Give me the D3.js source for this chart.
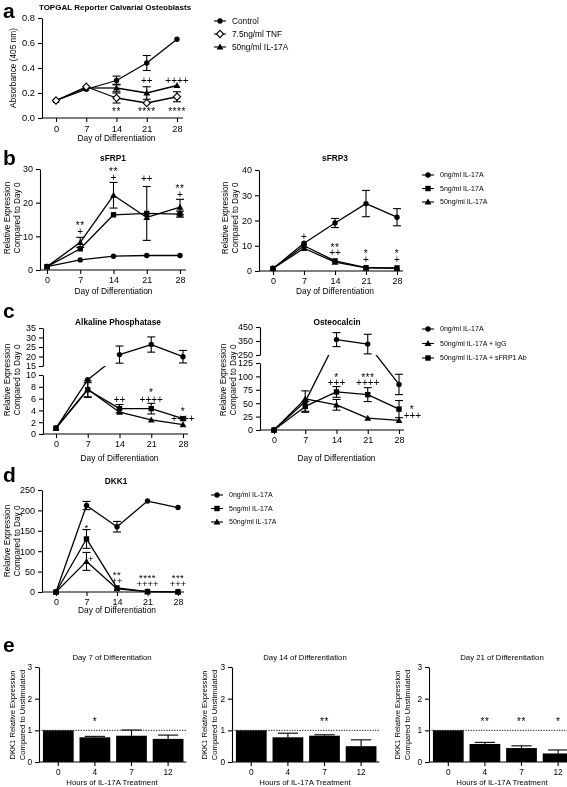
<!DOCTYPE html>
<html><head><meta charset="utf-8">
<script src="https://cdn.jsdelivr.net/npm/d3@7/dist/d3.min.js"></script>
<style>html,body{margin:0;background:#fff}svg{display:block;transform:translateZ(0)}svg text{font-family:"Liberation Sans",Arial,Helvetica,sans-serif;fill:#000}</style>
</head><body><svg id="c" width="567" height="787" viewBox="0 0 567 787"></svg>
<script>
// ---------------- DATA ----------------
const days=[0,7,14,21,28];
// panel a
const aNames=["Control","7.5ng/ml TNF","50ng/ml IL-17A"];
const aControl=[0.14,0.23,0.30,0.44,0.63], aControlErr=[0.01,0.02,0.035,0.06,0.005];
const aTNF=[0.14,0.25,0.16,0.12,0.17], aTNFErr=[0.01,0.01,0.04,0.01,0.04];
const aIL=[0.14,0.24,0.24,0.20,0.26], aILErr=[0.01,0.02,0.03,0.05,0.01];
const aTicks=[0,0.2,0.4,0.6,0.8];
const aAnn=[{d:14,v:0.07,t:"**"},{d:21,v:0.07,t:"****"},{d:28,v:0.07,t:"****"},{d:21,v:0.30,t:"++"},{d:28,v:0.30,t:"++++"}];
// panel b
const bNames=["0ng/ml IL-17A","5ng/ml IL-17A","50ng/ml IL-17A"];
const s1_0=[1,3,4.1,4.3,4.3], s1_0e=[0.1,0.2,0.5,0.3,0.2];
const s1_5=[1,6.3,16.4,16.8,16.6], s1_5e=[0.1,0.6,0.8,8,0.9];
const s1_50=[1,8.2,22.2,15.6,18.7], s1_50e=[0.1,1.5,3.8,0.8,2.3];
const s1Ticks=[0,10,20,30];
const s1Ann=[{d:7,v:13.9,t:"**"},{d:7,v:11.4,t:"+"},{d:14,v:29.9,t:"**"},{d:14,v:27.4,t:"+"},{d:21,v:27.3,t:"++"},{d:28,v:24.9,t:"**"},{d:28,v:22.4,t:"+"}];
const s3_0=[1,11,19,26.7,21.3], s3_0e=[0.1,0.5,1.8,5.2,3.4];
const s3_5=[1,10,4,1.3,1.2], s3_5e=[0.1,0.5,0.5,0.2,0.2];
const s3_50=[1,9,3.5,1.2,1.0], s3_50e=[0.1,0.5,0.5,0.2,0.2];
const s3Ticks=[0,10,20,30,40];
const s3Ann=[{d:7,v:13.9,t:"+"},{d:14,v:10.2,t:"**"},{d:14,v:7.2,t:"++"},{d:21,v:7.8,t:"*"},{d:21,v:4.6,t:"+"},{d:28,v:7.8,t:"*"},{d:28,v:4.6,t:"+"}];
// panel c
const cNames=["0ng/ml IL-17A","50ng/ml IL-17A + IgG","50ng/ml IL-17A + sFRP1 Ab"];
const alp_0=[1,9.2,21,26.3,19.9], alp_0e=[0.1,0.5,4.5,4,3.3];
const alp_igg=[1,7.6,3.7,2.4,1.6], alp_igge=[0.1,1.4,0.4,0.4,0.4];
const alp_ab=[1,7.5,4.3,4.3,2.6], alp_abe=[0.1,1.2,0.7,0.9,0.5];
const alpLoTicks=[0,2,4,6,8,10], alpUpTicks=[15,20,25,30,35];
const alpAnn=[{d:14,v:5.9,t:"++"},{d:21,v:7.4,t:"*"},{d:21,v:5.9,t:"++++"},{d:28,v:4.2,t:"*"},{d:28,v:2.7,t:"++++"}];
const oc_0=[0,53,360,328,85], oc_0e=[1,20,50,70,19];
const oc_igg=[0,58,47,22,18], oc_igge=[1,4,10,2,3];
const oc_ab=[0,44,71,66,39], oc_abe=[1,9,10,13,16];
const ocLoTicks=[0,25,50,75,100,125], ocUpTicks=[250,350,450];
const ocAnn=[{d:14,v:103,t:"*"},{d:14,v:88,t:"+++"},{d:21,v:103,t:"***"},{d:21,v:88,t:"++++"},{d:30.9,v:42,t:"*"},{d:31,v:27,t:"+++"}];
// panel d
const dk_0=[0,212,160,223,207], dk_0e=[1,10,13,2,3];
const dk_5=[0,130,10,1,0.5], dk_5e=[0,23,2,0.5,0.2];
const dk_50=[0,75,8,1,0.5], dk_50e=[0,22,2,0.5,0.2];
const dkTicks=[0,50,100,150,200,250];
const dkAnn=[{d:7,v:164,t:"*"},{d:8,v:81,t:"+"},{d:14,v:48,t:"**"},{d:14,v:29,t:"++"},{d:21,v:40,t:"****"},{d:21,v:21,t:"++++"},{d:28,v:40,t:"***"},{d:28,v:21,t:"+++"}];
// panel e
const hours=["0","4","7","12"];
const eTitles=["Day 7 of Differentiation","Day 14 of Differentiation","Day 21 of Differentiation"];
const e7=[1,0.78,0.83,0.73], e7err=[0,0.03,0.18,0.12];
const e14=[1,0.78,0.83,0.5], e14err=[0,0.13,0.03,0.2];
const e21=[1,0.57,0.44,0.27], e21err=[0,0.05,0.07,0.11];
const eTicks=[0,1,2,3];
const e7Ann=[{h:"4",v:1.36,t:"*"}], e14Ann=[{h:"7",v:1.36,t:"**"}], e21Ann=[{h:"4",v:1.36,t:"**"},{h:"7",v:1.36,t:"**"},{h:"12",v:1.36,t:"*"}];

// ---------------- DRAWING ----------------
const svg=d3.select("#c");

function marker(g,type,x,y){
  if(type==="circle") g.append("circle").attr("cx",x).attr("cy",y).attr("r",2.7).attr("fill","#000");
  else if(type==="square") g.append("rect").attr("x",x-2.7).attr("y",y-2.7).attr("width",5.4).attr("height",5.4).attr("fill","#000");
  else if(type==="triangle") g.append("path").attr("d",`M${x},${y-3.4}L${x+3.4},${y+2.6}L${x-3.4},${y+2.6}Z`).attr("fill","#000");
  else if(type==="diamond") g.append("path").attr("d",`M${x},${y-3.6}L${x+3.6},${y}L${x},${y+3.6}L${x-3.6},${y}Z`).attr("fill","#fff").attr("stroke","#000").attr("stroke-width",1.1);
}
function annText(g,x,y,t,fs){
  const star=t.indexOf("*")>=0;
  g.append("text").attr("x",x).attr("y",y+(star?0.6:0.36)*fs).attr("text-anchor","middle")
   .attr("font-size",fs).attr("fill","#000").attr("letter-spacing",star?0.5:0).text(t);
}
function letter(x,y,t){svg.append("text").attr("x",x).attr("y",y).attr("font-size",21).attr("font-weight","bold").text(t);}
function legend(x,y0,dy,names,types,fs){
  const g=svg.append("g");
  names.forEach((n,i)=>{
    const y=y0+i*dy;
    g.append("line").attr("x1",x-6).attr("x2",x+6).attr("y1",y).attr("y2",y).attr("stroke","#000").attr("stroke-width",1.1);
    marker(g,types[i],x,y);
    g.append("text").attr("x",x+12).attr("y",y+fs*0.35).attr("font-size",fs).text(n);
  });
}
let clipId=0;
function lineChart(L,D){
  const g=svg.append("g");
  const x=d3.scaleLinear().domain([0,28]).range([L.x0,L.x28]);
  const lo=d3.scaleLinear().domain(D.loDom).range(L.loRng);
  const up=D.upDom?d3.scaleLinear().domain(D.upDom).range(L.upRng):null;
  const isUp=v=>up&&v>=D.upDom[0];
  const y=v=>isUp(v)?up(v):lo(Math.min(v,D.loDom[1]));
  const fmt=D.fmt||(d=>d);
  const ya=g.append("g").attr("transform",`translate(${L.ax},0)`)
    .call(d3.axisLeft(lo).tickValues(D.loTicks).tickSize(4).tickSizeOuter(0).tickFormat(fmt));
  const axes=[ya];
  if(up){axes.push(g.append("g").attr("transform",`translate(${L.ax},0)`)
    .call(d3.axisLeft(up).tickValues(D.upTicks).tickSize(4).tickSizeOuter(0).tickFormat(fmt)));}
  const xa=g.append("g").attr("transform",`translate(0,${L.loRng[0]})`)
    .call(d3.axisBottom(x).tickValues(days).tickSize(4).tickSizeOuter(0));
  xa.select(".domain").attr("d",`M${L.ax},0H${L.xr}`);
  axes.push(xa);
  axes.forEach(a=>{a.attr("font-family",null).attr("font-size",L.tfs);
    a.selectAll("path,line").attr("stroke","#000").attr("stroke-width",1.1);});
  let cid=null;
  if(up){cid="clip"+(clipId++);
    svg.append("clipPath").attr("id",cid).append("rect").attr("x",0).attr("y",L.upRng[0]).attr("width",567).attr("height",787);}
  D.series.forEach(s=>{
    for(let i=0;i<s.vals.length-1;i++){
      const a=s.vals[i],b=s.vals[i+1];
      const ln=g.append("line").attr("x1",x(days[i])).attr("y1",y(a)).attr("x2",x(days[i+1])).attr("y2",y(b))
        .attr("stroke","#000").attr("stroke-width",1.3);
      if(up&&isUp(a)!==isUp(b)) ln.attr("clip-path",`url(#${cid})`);
    }
  });
  D.series.forEach(s=>{
    s.vals.forEach((v,i)=>{
      const e=s.errs[i]; const yt=y(v+e), yb=y(Math.max(0,v-e)); const xx=x(days[i]);
      if(yb-yt<6) return;
      g.append("line").attr("x1",xx).attr("x2",xx).attr("y1",yt).attr("y2",yb).attr("stroke","#000").attr("stroke-width",1.1);
      [yt,yb].forEach(yy=>g.append("line").attr("x1",xx-4).attr("x2",xx+4).attr("y1",yy).attr("y2",yy).attr("stroke","#000").attr("stroke-width",1.1));
    });
  });
  D.series.forEach(s=>{s.vals.forEach((v,i)=>marker(g,s.type,x(days[i]),y(v)));});
  D.ann.forEach(a=>annText(g,x(a.d),y(a.v),a.t,L.afs));
  g.append("text").attr("x",L.tx).attr("y",L.ty).attr("text-anchor","middle").attr("font-weight","bold").attr("font-size",L.tifs).text(D.title);
  D.ylab.forEach((t,i)=>g.append("text").attr("transform",`translate(${L.ylx[i]},${L.yly}) rotate(-90)`).attr("text-anchor","middle").attr("font-size",L.ylfs).text(t));
  g.append("text").attr("x",(L.x0+L.x28)/2).attr("y",L.xly).attr("text-anchor","middle").attr("font-size",L.xlfs).text("Day of Differentiation");
}

// panel a
letter(3,18,"a");
lineChart({x0:56,x28:177,ax:42,xr:183,loRng:[118,18],tfs:9.3,afs:10,tx:115,ty:10,tifs:8,ylx:[16],yly:68,ylfs:8.3,xly:141,xlfs:8.4},
 {loDom:[0,0.8],loTicks:aTicks,fmt:d3.format(".1f"),title:"TOPGAL Reporter Calvarial Osteoblasts",ylab:["Absorbance (405 nm)"],
  series:[{vals:aControl,errs:aControlErr,type:"circle"},{vals:aIL,errs:aILErr,type:"triangle"},{vals:aTNF,errs:aTNFErr,type:"diamond"}],ann:aAnn});
legend(220,21,13,aNames,["circle","diamond","triangle"],8.3);

// panel b
letter(3,165,"b");
const ylRel=["Relative Expression","Compared to Day 0"];
lineChart({x0:47,x28:180,ax:40,xr:186,loRng:[270,169],tfs:9,afs:10,tx:113,ty:161,tifs:8.3,ylx:[10,20],yly:218,ylfs:8.2,xly:294,xlfs:8.4},
 {loDom:[0,30],loTicks:s1Ticks,title:"sFRP1",ylab:ylRel,
  series:[{vals:s1_0,errs:s1_0e,type:"circle"},{vals:s1_5,errs:s1_5e,type:"square"},{vals:s1_50,errs:s1_50e,type:"triangle"}],ann:s1Ann});
lineChart({x0:273,x28:397,ax:259,xr:403,loRng:[271,170],tfs:9,afs:10,tx:335,ty:161,tifs:8.3,ylx:[228,238],yly:218,ylfs:8.2,xly:294,xlfs:8.4},
 {loDom:[0,40],loTicks:s3Ticks,title:"sFRP3",ylab:ylRel,
  series:[{vals:s3_0,errs:s3_0e,type:"circle"},{vals:s3_5,errs:s3_5e,type:"square"},{vals:s3_50,errs:s3_50e,type:"triangle"}],ann:s3Ann});
legend(428,175,13.5,bNames,["circle","square","triangle"],7);

// panel c
letter(3,318,"c");
lineChart({x0:56,x28:183,ax:43,xr:188,loRng:[434,375],upRng:[366,328],tfs:9,afs:10,tx:118,ty:325,tifs:8.3,ylx:[10,20],yly:380,ylfs:8.2,xly:461,xlfs:8.4},
 {loDom:[0,10],upDom:[15,35],loTicks:alpLoTicks,upTicks:alpUpTicks,title:"Alkaline Phosphatase",ylab:ylRel,
  series:[{vals:alp_0,errs:alp_0e,type:"circle"},{vals:alp_igg,errs:alp_igge,type:"triangle"},{vals:alp_ab,errs:alp_abe,type:"square"}],ann:alpAnn});
lineChart({x0:274,x28:399,ax:260,xr:404,loRng:[430,363],upRng:[355,327],tfs:9,afs:10,tx:337,ty:325,tifs:8.3,ylx:[226,236],yly:380,ylfs:8.2,xly:461,xlfs:8.4},
 {loDom:[0,125],upDom:[250,450],loTicks:ocLoTicks,upTicks:ocUpTicks,title:"Osteocalcin",ylab:ylRel,
  series:[{vals:oc_0,errs:oc_0e,type:"circle"},{vals:oc_igg,errs:oc_igge,type:"triangle"},{vals:oc_ab,errs:oc_abe,type:"square"}],ann:ocAnn});
legend(428,329,14.5,cNames,["circle","triangle","square"],7);

// panel d
letter(3,482,"d");
lineChart({x0:56,x28:178,ax:42,xr:184,loRng:[592,490],tfs:9,afs:9.5,tx:116,ty:484,tifs:8.3,ylx:[10,20],yly:541,ylfs:8.2,xly:613,xlfs:8.4},
 {loDom:[0,250],loTicks:dkTicks,title:"DKK1",ylab:ylRel,
  series:[{vals:dk_0,errs:dk_0e,type:"circle"},{vals:dk_5,errs:dk_5e,type:"square"},{vals:dk_50,errs:dk_50e,type:"triangle"}],ann:dkAnn});
legend(217,495,13.5,bNames,["circle","square","triangle"],7);

// panel e
letter(3,652,"e");
function barChart(L,title,vals,errs,ann){
  const g=svg.append("g");
  const x=d3.scaleBand().domain(hours).range([L.ax+1,L.ax+1+4*36.6]).paddingInner(0.16).paddingOuter(0.08);
  const y=d3.scaleLinear().domain([0,3]).range([762,667]);
  g.selectAll("rect.bar").data(vals).join("rect").attr("x",(d,i)=>x(hours[i])).attr("width",x.bandwidth())
    .attr("y",d=>y(d)).attr("height",d=>y(0)-y(d)).attr("fill","#000");
  vals.forEach((v,i)=>{ if(errs[i]<=0) return; const cx=x(hours[i])+x.bandwidth()/2;
    g.append("line").attr("x1",cx).attr("x2",cx).attr("y1",y(v)).attr("y2",y(v+errs[i])).attr("stroke","#000").attr("stroke-width",1.1);
    g.append("line").attr("x1",cx-x.bandwidth()*0.33).attr("x2",cx+x.bandwidth()*0.33).attr("y1",y(v+errs[i])).attr("y2",y(v+errs[i])).attr("stroke","#000").attr("stroke-width",1.1);
  });
  g.append("line").attr("x1",L.ax).attr("x2",L.ax+1+4*36.6).attr("y1",y(1)).attr("y2",y(1)).attr("stroke","#000").attr("stroke-width",0.9).attr("stroke-dasharray","1.3,1.3");
  const ya=g.append("g").attr("transform",`translate(${L.ax},0)`).call(d3.axisLeft(y).tickValues(eTicks).tickSize(4).tickSizeOuter(0).tickFormat(d3.format("d")));
  const xa=g.append("g").attr("transform",`translate(0,${y(0)})`).call(d3.axisBottom(x).tickSize(4).tickSizeOuter(0));
  xa.select(".domain").attr("d",`M${L.ax},0H${L.ax+1+4*36.6}`);
  [ya,xa].forEach(a=>{a.attr("font-family",null).attr("font-size",8.3);a.selectAll("path,line").attr("stroke","#000").attr("stroke-width",1.1);});
  ann.forEach(a=>annText(g,x(a.h)+x.bandwidth()/2,y(a.v),a.t,10));
  g.append("text").attr("x",L.ax+73).attr("y",660).attr("text-anchor","middle").attr("font-size",7.8).text(title);
  ["DKK1 Relative Expression","Compared to Unstimulated"].forEach((t,i)=>g.append("text").attr("transform",`translate(${L.ylx[i]},715) rotate(-90)`).attr("text-anchor","middle").attr("font-size",7.6).text(t));
  g.append("text").attr("x",L.ax+73).attr("y",785).attr("text-anchor","middle").attr("font-size",7.8).text("Hours of IL-17A Treatment");
}
barChart({ax:39,ylx:[15,25]},eTitles[0],e7,e7err,e7Ann);
barChart({ax:232,ylx:[207,217]},eTitles[1],e14,e14err,e14Ann);
barChart({ax:429,ylx:[400,410]},eTitles[2],e21,e21err,e21Ann);
</script></body></html>
